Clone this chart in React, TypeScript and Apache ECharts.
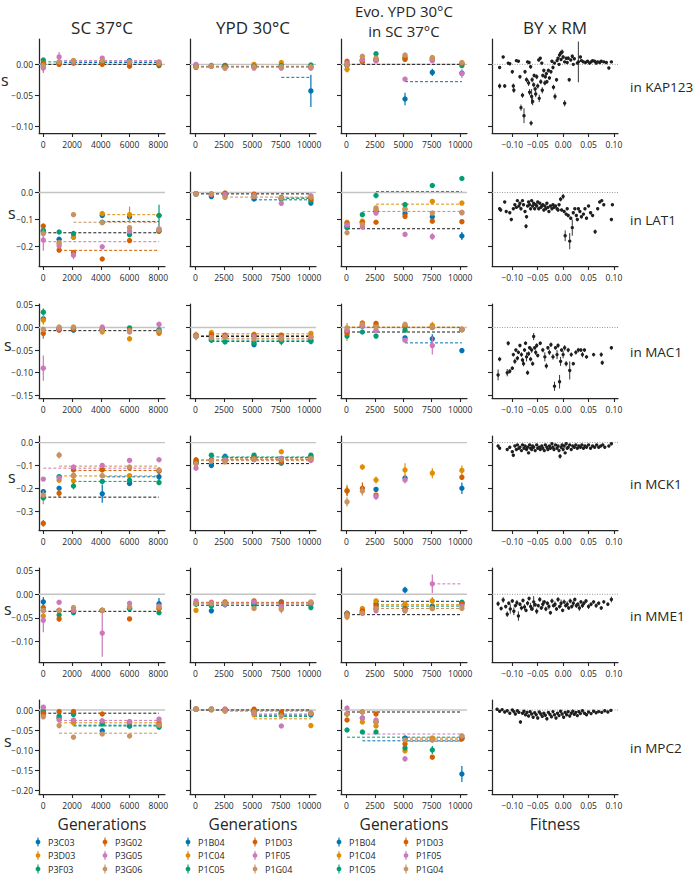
import React, { useEffect, useRef } from "react";
import * as echarts from "echarts";

const COLORS = ["#0173b2", "#de8f05", "#029e73", "#d55e00", "#cc78bc", "#ca9161"];
const POPS_SC = ["P3C03", "P3D03", "P3F03", "P3G02", "P3G05", "P3G06"];
const POPS_YPD = ["P1B04", "P1C04", "P1C05", "P1D03", "P1F05", "P1G04"];
const GENS_SC = [0, 1100, 2100, 4100, 6000, 8050];
const GENS_YPD = [50, 1400, 2600, 5150, 7550, 10150];
const GENES = ["KAP123", "LAT1", "MAC1", "MCK1", "MME1", "MPC2"];
const COL_TITLES = ["SC 37°C", "YPD 30°C", "Evo. YPD 30°C\nin SC 37°C", "BY x RM"];
const X_TITLES = ["Generations", "Generations", "Generations", "Fitness"];
const X_TICKS_SC = [0, 2000, 4000, 6000, 8000];
const X_TICKS_YPD = [0, 2500, 5000, 7500, 10000];
const X_TICKS_FIT = [-0.1, -0.05, 0, 0.05, 0.1];
const Y_TICKS = [
  [-0.1, -0.05, 0],
  [-0.2, -0.1, 0],
  [-0.15, -0.1, -0.05, 0, 0.05],
  [-0.3, -0.2, -0.1, 0],
  [-0.1, -0.05, 0, 0.05],
  [-0.2, -0.15, -0.1, -0.05, 0],
];

// values: rows = populations (blue, orange, green, red, pink, tan), cols = generations
// errors: [population, generation index, half-width]; lines: [population (-1 = black), s, start, end?]
const KAP123_SC = [
  [0.0, 0.002, 0.003, 0.003, 0.006, 0.002],
  [-0.004, 0.003, 0.006, 0.004, 0.003, 0.001],
  [0.007, 0.003, 0.003, 0.002, 0.002, -0.002],
  [0.002, 0.0, 0.002, 0.0, -0.003, 0.0],
  [-0.006, 0.012, 0.004, 0.01, 0.004, 0.004],
  [-0.002, 0.004, 0.006, 0.006, 0.004, 0.002],
];
const KAP123_SC_ERR = [[1, 0, 0.01], [4, 1, 0.008], [4, 0, 0.005]];
const KAP123_SC_LINES = [[-1, 0.0, 0], [2, 0.004, 0, 1100], [0, 0.003, 1100], [5, 0.005, 1100], [4, 0.006, 1100]];
const KAP123_YPD = [
  [-0.003, -0.003, -0.002, -0.003, -0.003, -0.043],
  [-0.004, -0.003, -0.004, 0.0, 0.003, -0.004],
  [-0.002, -0.002, -0.002, -0.003, -0.002, -0.001],
  [-0.005, -0.003, -0.004, -0.004, -0.005, -0.005],
  [0.0, -0.003, -0.006, -0.006, -0.006, -0.006],
  [-0.004, -0.003, -0.006, -0.004, -0.004, -0.004],
];
const KAP123_YPD_ERR = [[0, 5, 0.026]];
const KAP123_YPD_LINES = [[-1, -0.004, 50], [5, -0.003, 50], [0, -0.021, 7550]];
const KAP123_EVO = [
  [-0.002, 0.006, 0.008, -0.056, -0.013, -0.014],
  [-0.008, 0.008, 0.008, 0.013, 0.011, 0.002],
  [0.0, 0.006, 0.017, 0.01, 0.008, -0.002],
  [0.005, 0.004, 0.006, 0.008, 0.007, 0.001],
  [0.002, 0.007, 0.006, -0.024, 0.006, -0.015],
  [-0.001, 0.013, 0.01, 0.015, 0.01, 0.003],
];
const KAP123_EVO_ERR = [[1, 0, 0.005], [0, 3, 0.01], [0, 4, 0.006], [4, 5, 0.007], [1, 5, 0.005]];
const KAP123_EVO_LINES = [[-1, 0.0, 50], [0, -0.028, 5150]];

const LAT1_SC = [
  [-0.145, -0.173, -0.165, -0.085, -0.09, -0.143],
  [-0.145, -0.19, -0.165, -0.078, -0.082, -0.085],
  [-0.14, -0.146, -0.152, -0.11, -0.156, -0.085],
  [-0.124, -0.213, -0.222, -0.246, -0.178, -0.14],
  [-0.176, -0.198, -0.232, -0.201, -0.143, -0.134],
  [-0.152, -0.185, -0.082, -0.112, -0.13, -0.138],
];
const LAT1_SC_ERR = [[4, 0, 0.04], [1, 4, 0.03], [2, 5, 0.04], [4, 2, 0.015]];
const LAT1_SC_LINES = [[-1, -0.149, 0], [4, -0.182, 0], [3, -0.214, 1100], [5, -0.11, 2100], [0, -0.107, 4100], [1, -0.082, 4100]];
const LAT1_YPD = [
  [-0.005, -0.015, -0.008, -0.024, -0.022, -0.039],
  [-0.004, -0.007, -0.01, -0.008, -0.022, -0.02],
  [-0.006, -0.006, -0.008, -0.012, -0.024, -0.03],
  [-0.004, -0.007, -0.002, -0.006, -0.018, -0.024],
  [-0.005, -0.006, -0.008, -0.01, -0.04, -0.012],
  [-0.005, -0.005, -0.018, -0.015, -0.02, -0.017],
];
const LAT1_YPD_ERR = [];
const LAT1_YPD_LINES = [[-1, -0.005, 50], [5, -0.017, 2600], [0, -0.027, 5150], [2, -0.022, 7550], [1, -0.019, 7550]];
const LAT1_EVO = [
  [-0.125, -0.11, -0.07, -0.078, -0.09, -0.161],
  [-0.11, -0.106, -0.063, -0.06, -0.033, -0.039],
  [-0.13, -0.082, -0.011, -0.045, 0.026, 0.052],
  [-0.115, -0.112, -0.11, -0.088, -0.106, -0.108],
  [-0.12, -0.128, -0.076, -0.155, -0.163, -0.075],
  [-0.149, -0.118, -0.057, -0.063, -0.076, -0.073],
];
const LAT1_EVO_ERR = [[2, 2, 0.01], [4, 4, 0.012], [0, 5, 0.015], [4, 3, 0.01]];
const LAT1_EVO_LINES = [[-1, -0.134, 50], [2, 0.004, 2600], [1, -0.043, 2600], [5, -0.07, 1400]];

const MAC1_SC = [
  [0.019, -0.003, -0.006, -0.004, -0.005, -0.006],
  [0.016, -0.003, -0.002, -0.01, -0.025, -0.013],
  [0.034, -0.002, -0.003, -0.005, -0.001, -0.006],
  [-0.013, -0.006, -0.003, -0.005, -0.006, -0.01],
  [-0.09, -0.002, 0.0, 0.001, -0.01, 0.007],
  [-0.004, 0.001, 0.001, -0.007, -0.007, -0.008],
];
const MAC1_SC_ERR = [[2, 0, 0.008], [3, 0, 0.012], [4, 0, 0.028], [1, 0, 0.01], [1, 5, 0.006]];
const MAC1_SC_LINES = [[-1, -0.007, 0]];
const MAC1_YPD = [
  [-0.018, -0.026, -0.02, -0.038, -0.028, -0.028],
  [-0.018, -0.011, -0.019, -0.015, -0.02, -0.013],
  [-0.02, -0.028, -0.032, -0.034, -0.031, -0.031],
  [-0.016, -0.016, -0.017, -0.017, -0.017, -0.02],
  [-0.02, -0.022, -0.02, -0.02, -0.022, -0.022],
  [-0.019, -0.023, -0.021, -0.025, -0.025, -0.021],
];
const MAC1_YPD_ERR = [[5, 0, 0.01], [2, 4, 0.008], [2, 5, 0.006]];
const MAC1_YPD_LINES = [[1, -0.014, 1400], [3, -0.018, 50], [-1, -0.02, 50], [5, -0.024, 1400], [2, -0.028, 1400], [0, -0.031, 1400]];
const MAC1_EVO = [
  [-0.008, 0.003, 0.002, -0.023, -0.025, -0.051],
  [-0.01, 0.005, 0.004, 0.001, 0.005, -0.004],
  [-0.019, -0.01, -0.019, -0.006, 0.0, -0.005],
  [-0.013, 0.01, 0.009, 0.004, 0.001, -0.005],
  [-0.006, 0.003, -0.006, -0.028, -0.04, -0.004],
  [-0.001, 0.007, 0.001, 0.007, 0.001, -0.004],
];
const MAC1_EVO_ERR = [[1, 0, 0.02], [4, 4, 0.02], [1, 4, 0.008], [0, 4, 0.01]];
const MAC1_EVO_LINES = [[1, 0.001, 50], [3, 0.0, 50], [-1, -0.01, 50], [0, -0.034, 5150]];

const MCK1_SC = [
  [-0.215, -0.2, -0.145, -0.224, -0.179, -0.15],
  [-0.24, -0.165, -0.167, -0.12, -0.145, -0.122],
  [-0.242, -0.149, -0.19, -0.17, -0.165, -0.175],
  [-0.354, -0.222, -0.12, -0.118, -0.11, -0.125],
  [-0.16, -0.155, -0.107, -0.1, -0.078, -0.075],
  [-0.23, -0.055, -0.145, -0.145, -0.107, -0.12],
];
const MCK1_SC_ERR = [[3, 0, 0.015], [5, 1, 0.015], [3, 1, 0.02], [2, 2, 0.015], [0, 3, 0.04], [1, 5, 0.015], [1, 0, 0.03], [0, 5, 0.02], [3, 3, 0.01]];
const MCK1_SC_LINES = [[-1, -0.239, 0], [4, -0.112, 0], [5, -0.103, 1100], [3, -0.122, 2100], [1, -0.146, 1100], [0, -0.15, 4100], [2, -0.17, 2100]];
const MCK1_YPD = [
  [-0.09, -0.1, -0.06, -0.065, -0.07, -0.065],
  [-0.085, -0.075, -0.07, -0.065, -0.04, -0.065],
  [-0.085, -0.055, -0.065, -0.055, -0.09, -0.055],
  [-0.075, -0.075, -0.078, -0.07, -0.085, -0.075],
  [-0.112, -0.08, -0.075, -0.075, -0.07, -0.078],
  [-0.093, -0.081, -0.085, -0.072, -0.075, -0.07],
];
const MCK1_YPD_ERR = [[4, 0, 0.01], [0, 1, 0.01]];
const MCK1_YPD_LINES = [[2, -0.063, 1400], [0, -0.065, 2600], [1, -0.068, 2600], [4, -0.073, 2600], [3, -0.076, 50], [5, -0.079, 50], [-1, -0.092, 50]];
const MCK1_EVO = [
  [null, null, -0.205, -0.155, null, -0.2],
  [-0.21, -0.107, -0.164, -0.12, -0.134, -0.122],
  [null, null, null, null, null, null],
  [-0.212, -0.2, -0.23, null, null, -0.152],
  [null, null, -0.237, -0.164, null, null],
  [-0.26, -0.212, null, null, null, null],
];
const MCK1_EVO_ERR = [[1, 0, 0.025], [1, 1, 0.012], [3, 1, 0.025], [1, 2, 0.015], [1, 3, 0.03], [4, 3, 0.015], [1, 4, 0.022], [1, 5, 0.022], [0, 5, 0.025], [3, 0, 0.02], [5, 0, 0.02], [5, 1, 0.02], [4, 2, 0.015]];
const MCK1_EVO_LINES = [];

const MME1_SC = [
  [-0.016, -0.034, -0.034, -0.034, -0.03, -0.02],
  [-0.046, -0.034, -0.034, -0.034, -0.027, -0.03],
  [-0.034, -0.044, -0.039, -0.034, -0.03, -0.039],
  [-0.028, -0.052, -0.034, -0.034, -0.052, -0.03],
  [-0.055, -0.017, -0.034, -0.082, -0.019, -0.025],
  [-0.034, -0.034, -0.028, -0.034, -0.027, -0.027],
];
const MME1_SC_ERR = [[0, 0, 0.01], [4, 0, 0.025], [4, 3, 0.05], [0, 5, 0.012], [3, 1, 0.006]];
const MME1_SC_LINES = [[-1, -0.036, 0]];
const MME1_YPD = [
  [-0.02, -0.035, -0.02, -0.02, -0.016, -0.02],
  [-0.034, -0.022, -0.02, -0.02, -0.03, -0.02],
  [-0.021, -0.025, -0.022, -0.024, -0.025, -0.028],
  [-0.018, -0.017, -0.016, -0.014, -0.018, -0.018],
  [-0.014, -0.018, -0.021, -0.016, -0.026, -0.018],
  [-0.02, -0.02, -0.018, -0.03, -0.032, -0.016],
];
const MME1_YPD_ERR = [[2, 0, 0.006], [1, 2, 0.008], [5, 4, 0.008]];
const MME1_YPD_LINES = [[3, -0.017, 50], [4, -0.019, 50], [-1, -0.023, 50]];
const MME1_EVO = [
  [-0.04, -0.035, -0.02, 0.009, -0.025, -0.018],
  [-0.048, -0.03, -0.014, -0.02, -0.014, -0.02],
  [-0.042, -0.038, -0.03, -0.03, -0.028, -0.017],
  [-0.04, -0.035, -0.025, -0.03, -0.03, -0.02],
  [-0.044, -0.04, -0.035, -0.035, 0.022, -0.025],
  [-0.045, -0.04, -0.03, -0.035, -0.03, -0.03],
];
const MME1_EVO_ERR = [[0, 3, 0.007], [4, 4, 0.02], [5, 0, 0.01], [1, 4, 0.008]];
const MME1_EVO_LINES = [[4, 0.022, 7550], [-1, -0.015, 2600], [0, -0.015, 2600], [1, -0.022, 2600], [2, -0.025, 2600], [5, -0.03, 2600], [-1, -0.043, 50]];

const MPC2_SC = [
  [-0.005, -0.02, -0.03, -0.052, -0.04, -0.04],
  [-0.012, -0.02, -0.032, -0.032, -0.032, -0.03],
  [-0.002, -0.015, -0.011, -0.035, -0.04, -0.043],
  [-0.008, -0.004, -0.004, -0.01, -0.03, -0.035],
  [0.007, -0.025, -0.025, -0.027, -0.029, -0.023],
  [-0.017, -0.039, -0.068, -0.06, -0.065, -0.038],
];
const MPC2_SC_ERR = [];
const MPC2_SC_LINES = [[-1, -0.008, 0], [4, -0.026, 1100], [1, -0.032, 1100], [0, -0.038, 2100], [2, -0.04, 2100], [5, -0.058, 1100]];
const MPC2_YPD = [
  [0.002, 0.001, 0.0, -0.005, -0.008, -0.012],
  [0.002, 0.001, -0.002, -0.012, -0.012, -0.039],
  [0.002, 0.002, 0.001, -0.005, -0.01, -0.01],
  [0.002, 0.001, 0.002, 0.002, -0.005, -0.008],
  [0.002, 0.002, 0.001, -0.008, -0.04, -0.008],
  [0.003, 0.003, -0.003, -0.005, -0.015, -0.008],
];
const MPC2_YPD_ERR = [];
const MPC2_YPD_LINES = [[-1, 0.0, 50], [5, -0.003, 2600], [4, -0.01, 5150], [0, -0.013, 5150], [2, -0.016, 5150], [1, -0.022, 5150]];
const MPC2_EVO = [
  [-0.01, -0.02, -0.03, -0.07, -0.072, -0.16],
  [-0.01, -0.03, -0.04, -0.102, -0.07, -0.07],
  [-0.05, -0.055, -0.055, -0.095, -0.1, -0.07],
  [-0.025, -0.005, -0.01, -0.085, -0.118, -0.072],
  [0.005, -0.02, -0.025, -0.122, -0.075, -0.065],
  [-0.01, -0.005, -0.03, -0.075, -0.075, -0.065],
];
const MPC2_EVO_ERR = [[0, 5, 0.02], [2, 4, 0.01], [4, 3, 0.006]];
const MPC2_EVO_LINES = [[-1, -0.005, 50], [2, -0.068, 50], [4, -0.06, 1400], [0, -0.077, 1400], [5, -0.07, 5150], [1, -0.073, 5150], [3, -0.078, 5150]];

// BY x RM segregants: [fitness, s, error]
const KAP123_BYRM = [
  [-0.125, -0.005, 0.002], [-0.118, 0.012, 0.002], [-0.108, 0.002, 0.002], [-0.125, -0.035, 0.004], [-0.115, -0.035, 0.003], [-0.105, 0.001, 0.002],
  [-0.1, -0.012, 0.003], [-0.098, -0.035, 0.004], [-0.097, -0.042, 0.004], [-0.092, 0.006, 0.002], [-0.088, 0.005, 0.002], [-0.085, -0.02, 0.003],
  [-0.08, -0.05, 0.004], [-0.083, -0.07, 0.005], [-0.077, -0.083, 0.012], [-0.075, -0.012, 0.003], [-0.072, -0.025, 0.004], [-0.07, 0.004, 0.002],
  [-0.067, 0.003, 0.002], [-0.064, -0.004, 0.003], [-0.063, -0.095, 0.004], [-0.062, -0.052, 0.012], [-0.061, -0.025, 0.004], [-0.058, -0.033, 0.004],
  [-0.055, -0.04, 0.004], [-0.052, -0.02, 0.004], [-0.048, 0.007, 0.002], [-0.045, 0.01, 0.002], [-0.042, 0.002, 0.002], [-0.038, -0.01, 0.003],
  [-0.035, -0.02, 0.003], [-0.032, -0.028, 0.003], [-0.029, -0.01, 0.003], [-0.022, 0.005, 0.002], [-0.019, -0.037, 0.004], [-0.016, -0.052, 0.005],
  [-0.013, -0.025, 0.003], [-0.01, 0.01, 0.002], [-0.007, 0.015, 0.003], [-0.005, 0.018, 0.004], [-0.002, 0.02, 0.004], [0.003, 0.004, 0.002],
  [0.003, -0.063, 0.005], [0.01, 0.01, 0.003], [0.012, -0.025, 0.003], [0.015, 0.007, 0.002], [0.018, 0.013, 0.003], [0.022, 0.009, 0.002],
  [0.03, 0.004, 0.033], [0.034, 0.012, 0.002], [0.04, 0.004, 0.002], [0.048, 0.005, 0.002], [0.055, 0.004, 0.002], [0.062, 0.005, 0.002],
  [0.068, 0.004, 0.002], [0.075, 0.005, 0.002], [0.08, 0.004, 0.002], [0.09, -0.006, 0.002], [0.095, 0.004, 0.002],
  [-0.068, -0.03, 0.005], [-0.066, -0.045, 0.005], [-0.06, -0.06, 0.006], [-0.057, -0.018, 0.003], [-0.054, -0.048, 0.005], [-0.05, -0.035, 0.004],
  [-0.047, -0.055, 0.006], [-0.044, -0.028, 0.004], [-0.041, -0.042, 0.005], [-0.04, -0.018, 0.003], [-0.036, -0.03, 0.004], [-0.033, -0.015, 0.003],
  [-0.027, -0.022, 0.003], [-0.024, -0.012, 0.003], [-0.02, -0.005, 0.003], [-0.017, 0.002, 0.002], [-0.012, 0.006, 0.002], [-0.008, 0.0, 0.002],
  [-0.004, 0.008, 0.002], [0.0, 0.012, 0.003], [0.006, 0.01, 0.002], [0.008, 0.003, 0.002], [0.02, 0.0, 0.002], [0.028, 0.002, 0.002],
  [0.036, 0.006, 0.002], [0.044, 0.003, 0.002], [0.052, 0.002, 0.002], [0.058, 0.006, 0.002], [0.065, 0.002, 0.002], [0.072, 0.003, 0.002], [0.085, 0.003, 0.002],
];
const LAT1_BYRM = [
  [-0.125, -0.06, 0.006], [-0.123, -0.065, 0.005], [-0.115, -0.035, 0.004], [-0.112, -0.07, 0.005], [-0.105, -0.075, 0.005], [-0.102, -0.1, 0.006],
  [-0.098, -0.06, 0.004], [-0.095, -0.045, 0.004], [-0.092, -0.055, 0.005], [-0.09, -0.03, 0.004], [-0.087, -0.05, 0.004], [-0.085, -0.04, 0.004],
  [-0.083, -0.06, 0.005], [-0.08, -0.03, 0.004], [-0.078, -0.045, 0.004], [-0.075, -0.07, 0.005], [-0.073, -0.125, 0.008], [-0.072, -0.09, 0.006],
  [-0.07, -0.05, 0.004], [-0.068, -0.035, 0.004], [-0.066, -0.045, 0.004], [-0.064, -0.06, 0.005], [-0.062, -0.03, 0.004], [-0.06, -0.05, 0.004],
  [-0.058, -0.04, 0.004], [-0.056, -0.06, 0.005], [-0.054, -0.045, 0.004], [-0.052, -0.05, 0.004], [-0.05, -0.035, 0.004], [-0.048, -0.06, 0.005],
  [-0.046, -0.04, 0.004], [-0.044, -0.055, 0.004], [-0.042, -0.05, 0.004], [-0.04, -0.045, 0.004], [-0.038, -0.065, 0.005], [-0.036, -0.05, 0.004],
  [-0.034, -0.06, 0.004], [-0.032, -0.04, 0.004], [-0.03, -0.055, 0.004], [-0.028, -0.07, 0.005], [-0.025, -0.05, 0.004], [-0.022, -0.06, 0.004],
  [-0.02, -0.045, 0.004], [-0.018, -0.055, 0.004], [-0.015, -0.05, 0.004], [-0.012, -0.06, 0.004], [-0.01, -0.065, 0.005], [-0.008, -0.045, 0.004],
  [-0.005, -0.025, 0.008], [-0.003, -0.065, 0.005], [0.0, -0.015, 0.01], [0.002, -0.07, 0.005], [0.004, -0.16, 0.02], [0.006, -0.08, 0.005],
  [0.008, -0.06, 0.004], [0.01, -0.085, 0.006], [0.013, -0.18, 0.03], [0.015, -0.095, 0.006], [0.018, -0.13, 0.03], [0.02, -0.075, 0.005],
  [0.023, -0.06, 0.004], [0.026, -0.085, 0.006], [0.028, -0.1, 0.006], [0.03, -0.06, 0.004], [0.033, -0.07, 0.005], [0.036, -0.09, 0.006],
  [0.04, -0.08, 0.005], [0.043, -0.06, 0.004], [0.046, -0.095, 0.006], [0.05, -0.05, 0.004], [0.054, -0.075, 0.005], [0.058, -0.085, 0.005],
  [0.063, -0.145, 0.008], [0.068, -0.06, 0.005], [0.072, -0.035, 0.004], [0.076, -0.03, 0.004], [0.08, -0.045, 0.004], [0.095, -0.1, 0.006], [0.097, -0.045, 0.004],
];
const MAC1_BYRM = [
  [-0.128, -0.105, 0.012], [-0.125, -0.07, 0.005], [-0.11, -0.1, 0.008], [-0.108, -0.035, 0.005], [-0.105, -0.097, 0.005], [-0.1, -0.09, 0.004],
  [-0.098, -0.06, 0.004], [-0.095, -0.075, 0.006], [-0.093, -0.05, 0.004], [-0.09, -0.068, 0.005], [-0.088, -0.055, 0.004], [-0.085, -0.04, 0.004],
  [-0.082, -0.06, 0.005], [-0.08, -0.072, 0.005], [-0.078, -0.08, 0.006], [-0.076, -0.05, 0.004], [-0.074, -0.035, 0.004], [-0.072, -0.065, 0.01],
  [-0.07, -0.1, 0.005], [-0.068, -0.058, 0.005], [-0.066, -0.045, 0.004], [-0.064, -0.07, 0.005], [-0.062, -0.05, 0.006], [-0.06, -0.08, 0.005],
  [-0.058, -0.02, 0.008], [-0.056, -0.045, 0.004], [-0.054, -0.055, 0.006], [-0.052, -0.04, 0.005], [-0.05, -0.062, 0.004], [-0.045, -0.035, 0.004],
  [-0.04, -0.05, 0.005], [-0.036, -0.065, 0.01], [-0.033, -0.085, 0.006], [-0.03, -0.045, 0.004], [-0.027, -0.055, 0.006], [-0.024, -0.038, 0.005],
  [-0.02, -0.065, 0.006], [-0.017, -0.13, 0.01], [-0.015, -0.045, 0.004], [-0.012, -0.06, 0.01], [-0.01, -0.04, 0.005], [-0.007, -0.12, 0.015],
  [-0.005, -0.075, 0.01], [-0.003, -0.05, 0.004], [0.0, -0.06, 0.008], [0.003, -0.045, 0.006], [0.006, -0.08, 0.006], [0.01, -0.05, 0.005],
  [0.013, -0.095, 0.02], [0.016, -0.06, 0.005], [0.02, -0.08, 0.004], [0.025, -0.055, 0.005], [0.03, -0.05, 0.005], [0.035, -0.05, 0.004],
  [0.038, -0.06, 0.006], [0.042, -0.05, 0.004], [0.046, -0.065, 0.004], [0.06, -0.06, 0.004], [0.075, -0.06, 0.005], [0.077, -0.078, 0.005], [0.095, -0.045, 0.004],
];
const MCK1_BYRM = [
  [-0.128, -0.015, 0.004], [-0.125, -0.025, 0.004], [-0.11, -0.03, 0.004], [-0.105, -0.02, 0.004], [-0.1, -0.04, 0.005], [-0.098, -0.055, 0.005],
  [-0.095, -0.015, 0.004], [-0.092, -0.03, 0.004], [-0.09, -0.01, 0.004], [-0.087, -0.025, 0.004], [-0.085, -0.02, 0.004], [-0.082, -0.035, 0.004],
  [-0.08, -0.01, 0.004], [-0.077, -0.025, 0.004], [-0.075, -0.015, 0.004], [-0.072, -0.03, 0.004], [-0.07, -0.02, 0.004], [-0.068, -0.045, 0.005],
  [-0.066, -0.01, 0.004], [-0.064, -0.025, 0.004], [-0.062, -0.03, 0.004], [-0.06, -0.015, 0.004], [-0.058, -0.02, 0.004], [-0.055, -0.035, 0.004],
  [-0.052, -0.01, 0.004], [-0.05, -0.025, 0.004], [-0.047, -0.02, 0.004], [-0.045, -0.03, 0.004], [-0.042, -0.015, 0.004], [-0.04, -0.025, 0.004],
  [-0.037, -0.035, 0.004], [-0.035, -0.01, 0.004], [-0.032, -0.02, 0.004], [-0.03, -0.03, 0.004], [-0.027, -0.015, 0.004], [-0.025, -0.025, 0.004],
  [-0.022, -0.005, 0.004], [-0.02, -0.02, 0.004], [-0.018, -0.03, 0.004], [-0.015, -0.01, 0.004], [-0.012, -0.025, 0.004], [-0.01, -0.015, 0.004],
  [-0.008, -0.035, 0.004], [-0.006, -0.06, 0.01], [-0.004, -0.02, 0.004], [-0.002, -0.01, 0.004], [0.0, -0.03, 0.004], [0.002, -0.015, 0.004],
  [0.004, -0.045, 0.005], [0.006, -0.005, 0.004], [0.008, -0.025, 0.004], [0.01, -0.02, 0.004], [0.013, -0.01, 0.004], [0.016, -0.03, 0.004],
  [0.019, -0.015, 0.004], [0.022, -0.02, 0.004], [0.025, -0.01, 0.004], [0.028, -0.025, 0.004], [0.031, -0.015, 0.004], [0.034, -0.02, 0.004],
  [0.037, -0.01, 0.004], [0.04, -0.025, 0.004], [0.043, -0.015, 0.004], [0.046, -0.02, 0.004], [0.05, -0.01, 0.004], [0.054, -0.025, 0.004],
  [0.058, -0.015, 0.004], [0.062, -0.02, 0.004], [0.066, -0.01, 0.004], [0.07, -0.02, 0.004], [0.074, -0.015, 0.004], [0.078, -0.01, 0.004],
  [0.082, -0.02, 0.004], [0.09, -0.015, 0.004], [0.095, -0.005, 0.004],
];
const MME1_BYRM = [
  [-0.128, -0.02, 0.005], [-0.122, -0.03, 0.004], [-0.118, -0.012, 0.006], [-0.113, -0.026, 0.004], [-0.11, -0.042, 0.006], [-0.107, -0.019, 0.004],
  [-0.104, -0.031, 0.01], [-0.1, -0.014, 0.004], [-0.097, -0.036, 0.008], [-0.094, -0.024, 0.004], [-0.091, -0.018, 0.006], [-0.088, -0.046, 0.01],
  [-0.085, -0.021, 0.004], [-0.082, -0.029, 0.005], [-0.079, -0.013, 0.004], [-0.076, -0.027, 0.006], [-0.073, -0.034, 0.004], [-0.07, -0.019, 0.005],
  [-0.067, -0.009, 0.004], [-0.064, -0.026, 0.008], [-0.061, -0.031, 0.004], [-0.058, -0.016, 0.012], [-0.055, -0.022, 0.004], [-0.052, -0.036, 0.006],
  [-0.049, -0.024, 0.004], [-0.046, -0.011, 0.005], [-0.043, -0.029, 0.004], [-0.04, -0.021, 0.008], [-0.037, -0.016, 0.004], [-0.034, -0.031, 0.005],
  [-0.031, -0.019, 0.004], [-0.028, -0.026, 0.006], [-0.025, -0.039, 0.004], [-0.022, -0.014, 0.005], [-0.019, -0.024, 0.004], [-0.016, -0.021, 0.006],
  [-0.013, -0.031, 0.004], [-0.01, -0.011, 0.005], [-0.007, -0.026, 0.004], [-0.004, -0.019, 0.008], [-0.001, -0.034, 0.004], [0.002, -0.016, 0.005],
  [0.005, -0.024, 0.004], [0.008, -0.021, 0.006], [0.011, -0.029, 0.004], [0.014, -0.014, 0.005], [0.017, -0.026, 0.004], [0.02, -0.019, 0.006],
  [0.023, -0.011, 0.004], [0.026, -0.024, 0.005], [0.029, -0.021, 0.004], [0.032, -0.029, 0.006], [0.035, -0.016, 0.004], [0.038, -0.024, 0.005],
  [0.041, -0.019, 0.004], [0.045, -0.014, 0.004], [0.05, -0.026, 0.005], [0.055, -0.021, 0.004], [0.06, -0.016, 0.004], [0.065, -0.024, 0.005],
  [0.07, -0.019, 0.004], [0.075, -0.029, 0.004], [0.08, -0.016, 0.004], [0.088, -0.021, 0.004], [0.095, -0.011, 0.006],
];
const MPC2_BYRM = [
  [-0.13, 0.002, 0.002], [-0.125, -0.003, 0.002], [-0.12, 0.001, 0.002], [-0.115, -0.005, 0.003], [-0.11, -0.002, 0.002], [-0.105, -0.008, 0.003],
  [-0.1, 0.0, 0.002], [-0.097, -0.004, 0.002], [-0.094, -0.01, 0.003], [-0.09, -0.002, 0.002], [-0.087, -0.006, 0.002], [-0.084, -0.03, 0.004],
  [-0.08, -0.008, 0.003], [-0.077, -0.003, 0.002], [-0.074, -0.012, 0.003], [-0.071, -0.006, 0.002], [-0.068, -0.015, 0.003], [-0.065, -0.004, 0.002],
  [-0.062, -0.01, 0.003], [-0.059, -0.018, 0.003], [-0.056, -0.007, 0.002], [-0.053, -0.012, 0.003], [-0.05, -0.02, 0.004], [-0.047, -0.005, 0.002],
  [-0.044, -0.01, 0.003], [-0.041, -0.016, 0.003], [-0.038, -0.008, 0.002], [-0.035, -0.013, 0.003], [-0.032, -0.022, 0.004], [-0.029, -0.006, 0.002],
  [-0.026, -0.011, 0.003], [-0.023, -0.017, 0.003], [-0.02, -0.004, 0.002], [-0.017, -0.012, 0.003], [-0.014, -0.02, 0.003], [-0.011, -0.008, 0.002],
  [-0.008, -0.014, 0.003], [-0.005, -0.003, 0.002], [-0.002, -0.01, 0.003], [0.001, -0.018, 0.004], [0.004, -0.006, 0.002], [0.007, -0.012, 0.003],
  [0.01, -0.004, 0.002], [0.013, -0.015, 0.003], [0.016, -0.008, 0.002], [0.019, -0.003, 0.002], [0.022, -0.011, 0.003], [0.025, -0.006, 0.002],
  [0.028, -0.014, 0.003], [0.031, -0.004, 0.002], [0.034, -0.009, 0.002], [0.038, -0.002, 0.002], [0.042, -0.008, 0.002], [0.046, -0.012, 0.003],
  [0.05, -0.005, 0.002], [0.055, -0.009, 0.002], [0.06, -0.003, 0.002], [0.065, -0.007, 0.002], [0.07, -0.004, 0.002], [0.076, -0.006, 0.002],
  [0.082, -0.002, 0.002], [0.088, -0.005, 0.002], [0.094, -0.001, 0.002],
];

const PANELS = [
  [[KAP123_SC, KAP123_SC_ERR, KAP123_SC_LINES], [KAP123_YPD, KAP123_YPD_ERR, KAP123_YPD_LINES], [KAP123_EVO, KAP123_EVO_ERR, KAP123_EVO_LINES], KAP123_BYRM],
  [[LAT1_SC, LAT1_SC_ERR, LAT1_SC_LINES], [LAT1_YPD, LAT1_YPD_ERR, LAT1_YPD_LINES], [LAT1_EVO, LAT1_EVO_ERR, LAT1_EVO_LINES], LAT1_BYRM],
  [[MAC1_SC, MAC1_SC_ERR, MAC1_SC_LINES], [MAC1_YPD, MAC1_YPD_ERR, MAC1_YPD_LINES], [MAC1_EVO, MAC1_EVO_ERR, MAC1_EVO_LINES], MAC1_BYRM],
  [[MCK1_SC, MCK1_SC_ERR, MCK1_SC_LINES], [MCK1_YPD, MCK1_YPD_ERR, MCK1_YPD_LINES], [MCK1_EVO, MCK1_EVO_ERR, MCK1_EVO_LINES], MCK1_BYRM],
  [[MME1_SC, MME1_SC_ERR, MME1_SC_LINES], [MME1_YPD, MME1_YPD_ERR, MME1_YPD_LINES], [MME1_EVO, MME1_EVO_ERR, MME1_EVO_LINES], MME1_BYRM],
  [[MPC2_SC, MPC2_SC_ERR, MPC2_SC_LINES], [MPC2_YPD, MPC2_YPD_ERR, MPC2_YPD_LINES], [MPC2_EVO, MPC2_EVO_ERR, MPC2_EVO_LINES], MPC2_BYRM],
];

// layout
const FONT = "Open Sans";
const INK = "#262626";
const COL_LEFT = [39, 190, 341, 492];
const ROW_TOP = [39, 172, 304, 436, 568, 700];
const PW = 126;
const PH = 94;
const X_RANGE = [[-300, 8466], [-480, 10600], [-480, 10600], [-0.14, 0.108]];
const Y_RANGE = [[-0.111, 0.041], [-0.272, 0.076], [-0.156, 0.052], [-0.383, 0.029], [-0.143, 0.0555], [-0.21, 0.025]];
const Y_DEC = [2, 1, 2, 1, 2, 2];
const S_X = [1, 8, 4, 8, 4, 4];
const LEG_X = [38, 188, 339];
const LEG_DX = 67;
const LEG_Y = 842;
const LEG_DY = 13.5;

const fmt = (v: number, d: number) => v.toFixed(d).replace("-", "\u2212");

function errSeries(idx: number, color: string, data: number[][], r: number, lw: number, z: number, name: string) {
  return {
    type: "custom",
    name,
    xAxisIndex: idx,
    yAxisIndex: idx,
    z,
    silent: true,
    data,
    renderItem: (_p: any, api: any) => {
      const x = api.value(0);
      const y = api.value(1);
      const e = api.value(2);
      const c = api.coord([x, y]);
      const children: any[] = [];
      if (e > 0) {
        const t = api.coord([x, y + e]);
        const b = api.coord([x, y - e]);
        children.push({ type: "line", shape: { x1: c[0], y1: t[1], x2: c[0], y2: b[1] }, style: { stroke: color, lineWidth: lw } });
      }
      children.push({ type: "circle", shape: { cx: c[0], cy: c[1], r }, style: { fill: color } });
      return { type: "group", children };
    },
  };
}

function buildOption() {
  const grid: any[] = [];
  const xAxis: any[] = [];
  const yAxis: any[] = [];
  const series: any[] = [];
  const graphic: any[] = [];

  for (let r = 0; r < 6; r++) {
    for (let c = 0; c < 4; c++) {
      const idx = r * 4 + c;
      grid.push({ left: COL_LEFT[c], top: ROW_TOP[r], width: PW, height: PH });
      const xt = c === 0 ? X_TICKS_SC : c === 3 ? X_TICKS_FIT : X_TICKS_YPD;
      xAxis.push({
        type: "value",
        gridIndex: idx,
        min: X_RANGE[c][0],
        max: X_RANGE[c][1],
        splitLine: { show: false },
        axisLine: { show: true, onZero: false, lineStyle: { color: INK, width: 1.25 } },
        axisTick: { show: true, length: 4, customValues: xt, lineStyle: { color: INK, width: 1.1 } },
        axisLabel: {
          show: true,
          customValues: xt,
          margin: 7,
          fontSize: 8.5,
          fontFamily: FONT,
          color: INK,
          formatter: (v: number) => (c === 3 ? fmt(v, 2) : String(Math.round(v))),
        },
      });
      yAxis.push({
        type: "value",
        gridIndex: idx,
        min: Y_RANGE[r][0],
        max: Y_RANGE[r][1],
        splitLine: { show: false },
        axisLine: { show: true, onZero: false, lineStyle: { color: INK, width: 1.25 } },
        axisTick: { show: true, length: 4, customValues: Y_TICKS[r], lineStyle: { color: INK, width: 1.1 } },
        axisLabel: {
          show: c === 0,
          customValues: Y_TICKS[r],
          margin: 6,
          fontSize: 8.5,
          fontFamily: FONT,
          color: INK,
          formatter: (v: number) => fmt(v, Y_DEC[r]),
        },
      });

      // zero reference line
      series.push({
        type: "line",
        xAxisIndex: idx,
        yAxisIndex: idx,
        data: [[X_RANGE[c][0], 0], [X_RANGE[c][1], 0]],
        symbol: "none",
        silent: true,
        z: 1,
        lineStyle: c === 3 ? { color: "#9a9a9a", width: 1, type: [1, 1.5] } : { color: "#c4c4c4", width: 1.4 },
      });

      if (c < 3) {
        const [vals, errs, lines] = PANELS[r][c] as any[];
        const gens = c === 0 ? GENS_SC : GENS_YPD;
        const pops = c === 0 ? POPS_SC : POPS_YPD;
        const lastGen = gens[gens.length - 1];
        (lines as any[]).forEach((L: number[]) => {
          const color = L[0] < 0 ? "#1a1a1a" : COLORS[L[0]];
          const end = L.length > 3 ? L[3] : lastGen;
          series.push({
            type: "line",
            xAxisIndex: idx,
            yAxisIndex: idx,
            data: [[L[2], L[1]], [end, L[1]]],
            symbol: "none",
            silent: true,
            z: 3,
            lineStyle: { color, width: 1, type: [3, 2] },
          });
        });
        for (let p = 0; p < 6; p++) {
          const data: number[][] = [];
          for (let g = 0; g < gens.length; g++) {
            const v = vals[p][g];
            if (v === null || v === undefined) continue;
            const er = (errs as number[][]).find((e) => e[0] === p && e[1] === g);
            data.push([gens[g], v, er ? er[2] : 0]);
          }
          series.push(errSeries(idx, COLORS[p], data, 2.7, 1.2, 4 + p, pops[p]));
        }
      } else {
        const pts = PANELS[r][3] as number[][];
        series.push(errSeries(idx, "#1f1f1f", pts, 1.7, 0.9, 4, "BY x RM " + GENES[r]));
      }
    }

    // y label "s"
    graphic.push({
      type: "text",
      left: S_X[r],
      top: ROW_TOP[r] + 33,
      style: { text: "s", font: `16px "${FONT}"`, fill: INK },
    });
    // row label
    graphic.push({
      type: "text",
      x: 630,
      y: ROW_TOP[r] + 48,
      style: { text: "in " + GENES[r], font: `13.5px "${FONT}"`, fill: INK, textVerticalAlign: "middle" },
    });
  }

  // column titles (the two-line title is one text element)
  for (let c = 0; c < 4; c++) {
    const cx = COL_LEFT[c] + PW / 2;
    const twoLines = COL_TITLES[c].indexOf("\n") >= 0;
    graphic.push({
      type: "text",
      x: cx,
      y: twoLines ? 20.5 : 27,
      style: {
        text: COL_TITLES[c],
        font: `${twoLines ? 15 : 17}px "${FONT}"`,
        lineHeight: 20,
        fill: INK,
        textAlign: "center",
        textVerticalAlign: "middle",
      },
    });
    graphic.push({
      type: "text",
      x: cx,
      y: 824,
      style: { text: X_TITLES[c], font: `15.5px "${FONT}"`, fill: INK, textAlign: "center", textVerticalAlign: "middle" },
    });
  }

  // legends
  for (let c = 0; c < 3; c++) {
    const pops = c === 0 ? POPS_SC : POPS_YPD;
    for (let i = 0; i < 6; i++) {
      const col = Math.floor(i / 3);
      const row = i % 3;
      const mx = LEG_X[c] + col * LEG_DX;
      const my = LEG_Y + row * LEG_DY;
      graphic.push({ type: "line", shape: { x1: mx, y1: my - 4.5, x2: mx, y2: my + 4.5 }, style: { stroke: COLORS[i], lineWidth: 1.1 } });
      graphic.push({ type: "circle", shape: { cx: mx, cy: my, r: 2.4 }, style: { fill: COLORS[i] } });
      graphic.push({
        type: "text",
        x: mx + 10,
        y: my,
        style: { text: pops[i], font: `9px "${FONT}"`, fill: INK, textVerticalAlign: "middle" },
      });
    }
  }

  return {
    animation: false,
    backgroundColor: "#ffffff",
    textStyle: { fontFamily: FONT },
    grid,
    xAxis,
    yAxis,
    series,
    graphic,
  };
}

export default function App() {
  const ref = useRef<HTMLDivElement>(null);
  useEffect(() => {
    if (!ref.current) return;
    const chart = echarts.init(ref.current, undefined, { renderer: "svg" });
    chart.setOption(buildOption() as any);
    return () => chart.dispose();
  }, []);
  return <div ref={ref} style={{ position: "fixed", left: 0, top: 0, width: 696, height: 876, background: "#fff" }} />;
}
